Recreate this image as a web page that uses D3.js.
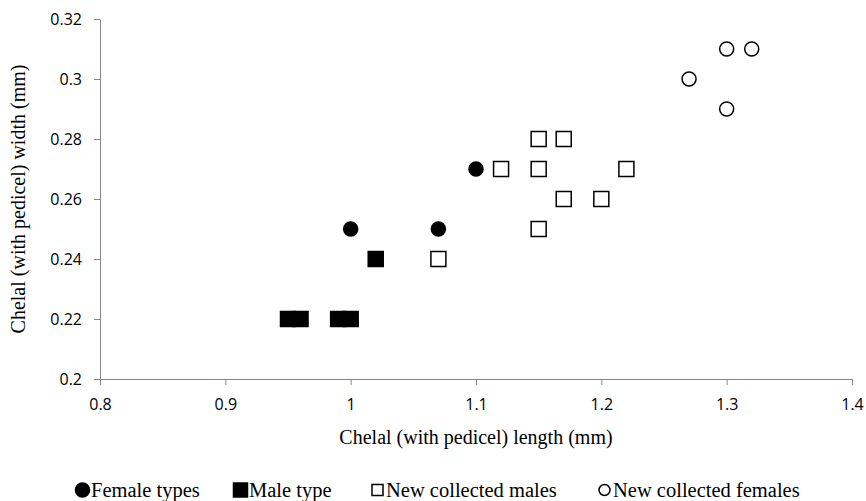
<!DOCTYPE html><meta charset="utf-8"><style>
    body { margin: 0; background: #fff; }
    .tick text { font: 16px "Open Sans", "Liberation Sans", sans-serif; fill: #000; }
    .title { font: 20px "Liberation Serif", "Times New Roman", serif; fill: #000; }
    .legend text { font: 20.5px "Liberation Serif", "Times New Roman", serif; fill: #000; }
</style><svg width="866" height="501"></svg><script src="https://cdn.jsdelivr.net/npm/d3@7"></script><script>

    var width = 866, height = 501;

    var margin = ({top: 19, right: 14, bottom: 122, left: 100});

    // values
    var femaleTypes = [[1.0, 0.25], [1.07, 0.25], [1.1, 0.27]];
    var maleType = [[0.95, 0.22], [0.96, 0.22], [0.99, 0.22], [1.0, 0.22], [1.02, 0.24]];
    var newMales = [[1.07, 0.24], [1.12, 0.27], [1.15, 0.28], [1.17, 0.28], [1.15, 0.27],
        [1.15, 0.25], [1.17, 0.26], [1.2, 0.26], [1.22, 0.27]];
    var newFemales = [[1.27, 0.30], [1.3, 0.31], [1.32, 0.31], [1.3, 0.29]];

    var xTicks = [0.8, 0.9, 1.0, 1.1, 1.2, 1.3, 1.4];
    var yTicks = [0.2, 0.22, 0.24, 0.26, 0.28, 0.3, 0.32];

    var series = [
        {name: "Female types", data: femaleTypes, shape: "circle", filled: true},
        {name: "Male type", data: maleType, shape: "square", filled: true},
        {name: "New collected males", data: newMales, shape: "square", filled: false},
        {name: "New collected females", data: newFemales, shape: "circle", filled: false}
    ];

    var x = d3.scaleLinear()
        .domain([0.8, 1.4])
        .range([margin.left, width - margin.right]);

    var y = d3.scaleLinear()
        .domain([0.2, 0.32])
        .range([height - margin.bottom, margin.top]);

    var fmt = d => String(+d.toFixed(2));

    const svg = d3.select("svg")
        .attr("viewBox", [0, 0, width, height]);

    var axisColor = "#868686";

    svg.append("g")
        .attr("transform", `translate(0,${y(0.2)})`)
        .call(d3.axisBottom(x).tickValues(xTicks).tickFormat(fmt).tickSize(6).tickSizeOuter(0).tickPadding(14))
        .call(g => g.selectAll(".domain, line").attr("stroke", axisColor));

    svg.append("g")
        .attr("transform", `translate(${x(0.8)},0)`)
        .call(d3.axisLeft(y).tickValues(yTicks).tickFormat(fmt).tickSize(6).tickSizeOuter(0).tickPadding(12))
        .call(g => g.selectAll(".domain, line").attr("stroke", axisColor));

    // axis titles
    svg.append("text")
        .attr("class", "title")
        .attr("x", (x(0.8) + x(1.4)) / 2)
        .attr("y", 444)
        .attr("text-anchor", "middle")
        .text("Chelal (with pedicel) length (mm)");

    svg.append("text")
        .attr("class", "title")
        .attr("transform", `translate(25,${(y(0.2) + y(0.32)) / 2}) rotate(-90)`)
        .attr("text-anchor", "middle")
        .text("Chelal (with pedicel) width (mm)");

    var size = 14;

    function drawMarker(sel, s, cx, cy, r) {
        if (s.shape === "circle") {
            sel.append("circle")
                .attr("cx", cx).attr("cy", cy).attr("r", r)
                .attr("fill", s.filled ? "#000" : "#fff")
                .attr("stroke", "#000").attr("stroke-width", 1.5);
        } else {
            sel.append("rect")
                .attr("x", cx - r).attr("y", cy - r)
                .attr("width", 2 * r).attr("height", 2 * r)
                .attr("fill", s.filled ? "#000" : "#fff")
                .attr("stroke", "#000").attr("stroke-width", 1.5);
        }
    }

    series.forEach(s => {
        var g = svg.append("g");
        s.data.forEach(d => drawMarker(g, s, x(d[0]), y(d[1]), s.shape === "circle" ? size / 2 : size / 2 + 0.5));
    });

    // legend
    var legendX = [75, 233, 370, 597];
    var legend = svg.append("g").attr("class", "legend");
    series.forEach((s, i) => {
        var g = legend.append("g").attr("transform", `translate(${legendX[i]},490)`);
        drawMarker(g, s, 7.5, 0, s.filled ? 7 : 5.5);
        g.append("text")
            .attr("x", 16)
            .attr("y", 6.5)
            .text(s.name);
    });

</script>
